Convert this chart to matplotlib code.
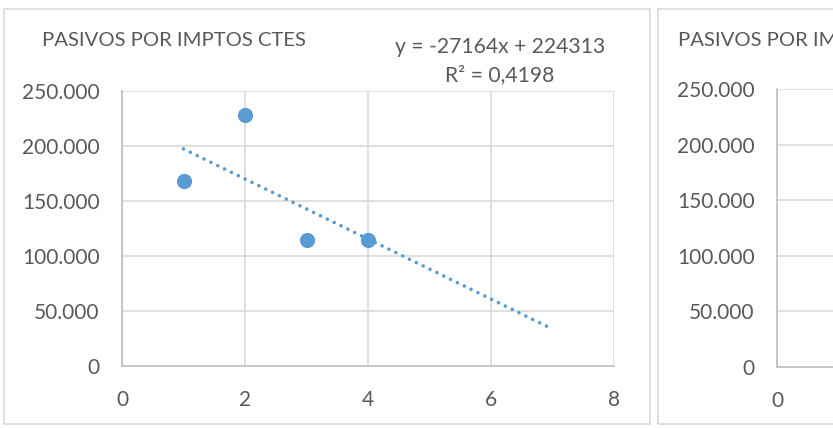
import numpy as np
import matplotlib.pyplot as plt
from matplotlib.patches import Rectangle
from matplotlib.ticker import FuncFormatter

# datos
periodos = [1, 2, 3, 4]
pasivos = [168000, 228200, 114500, 114912]
trend_x = [1, 7]
eq_text = "y = -27164x + 224313"
r2_text = "R² = 0,4198"
titulo = "PASIVOS POR IMPTOS CTES"
titulo2 = "PASIVOS POR IMPTOS CTES"
y_ticks = [0, 50000, 100000, 150000, 200000, 250000]
x_ticks = [0, 2, 4, 6, 8]

W, H = 833, 428
plt.rcParams["font.family"] = ["Lato", "DejaVu Sans"]
TXT = "#595959"
GRID = "#D9D9D9"
BLUE = "#5B9BD5"

fig = plt.figure(figsize=(W / 100, H / 100), dpi=100)
fig.patch.set_facecolor("white")

def px(x0, y0, x1, y1):
    # pixel box -> figure fraction [left, bottom, width, height]
    return [x0 / W, 1 - y1 / H, (x1 - x0) / W, (y1 - y0) / H]

# chart frames
for x0, x1 in [(4, 650), (658, 900)]:
    fig.patches.append(Rectangle((x0 / W, 1 - 424 / H), (x1 - x0) / W, 415 / H,
                                 transform=fig.transFigure, fill=False,
                                 edgecolor=GRID, linewidth=1.2))

fmt = FuncFormatter(lambda v, p: f"{int(v):,}".replace(",", "."))

def style(ax, xt):
    ax.set_ylim(0, 250000)
    ax.set_yticks(y_ticks)
    ax.yaxis.set_major_formatter(fmt)
    ax.set_xlim(0, 8)
    ax.set_xticks(xt)
    ax.grid(True, color=GRID, linewidth=1.2)
    ax.set_axisbelow(True)
    for s in ["top", "right"]:
        ax.spines[s].set_visible(False)
    for s in ["left", "bottom"]:
        ax.spines[s].set_color("#BFBFBF")
        ax.spines[s].set_linewidth(1.2)
    ax.tick_params(length=0, labelsize=15, colors=TXT)
    ax.tick_params(axis="y", pad=16)
    ax.tick_params(axis="x", pad=17)

ax = fig.add_axes(px(122, 91, 614, 366))
style(ax, x_ticks)
coef = np.polyfit(periodos, pasivos, 1)
tx = np.array(trend_x)
ax.plot(tx, np.polyval(coef, tx), color=BLUE, linewidth=2.6,
        linestyle=(0, (0.01, 2.1)), dash_capstyle="round", zorder=2)
ax.scatter(periodos, pasivos, s=120, color=BLUE, zorder=3, linewidths=0)

fig.text(42 / W, 1 - 40 / H, titulo, fontsize=14.6, color=TXT, va="center")
fig.text(500 / W, 1 - 47 / H, eq_text, fontsize=15.2, color=TXT, va="center", ha="center")
fig.text(500 / W, 1 - 75 / H, r2_text, fontsize=15.2, color=TXT, va="center", ha="center")

# segundo grafico (cortado por el borde)
ax2 = fig.add_axes(px(777, 89, 1269, 367))
style(ax2, x_ticks[:1])
fig.text(678 / W, 1 - 40 / H, titulo2, fontsize=14.6, color=TXT, va="center")

fig.savefig("out.png", dpi=100)
